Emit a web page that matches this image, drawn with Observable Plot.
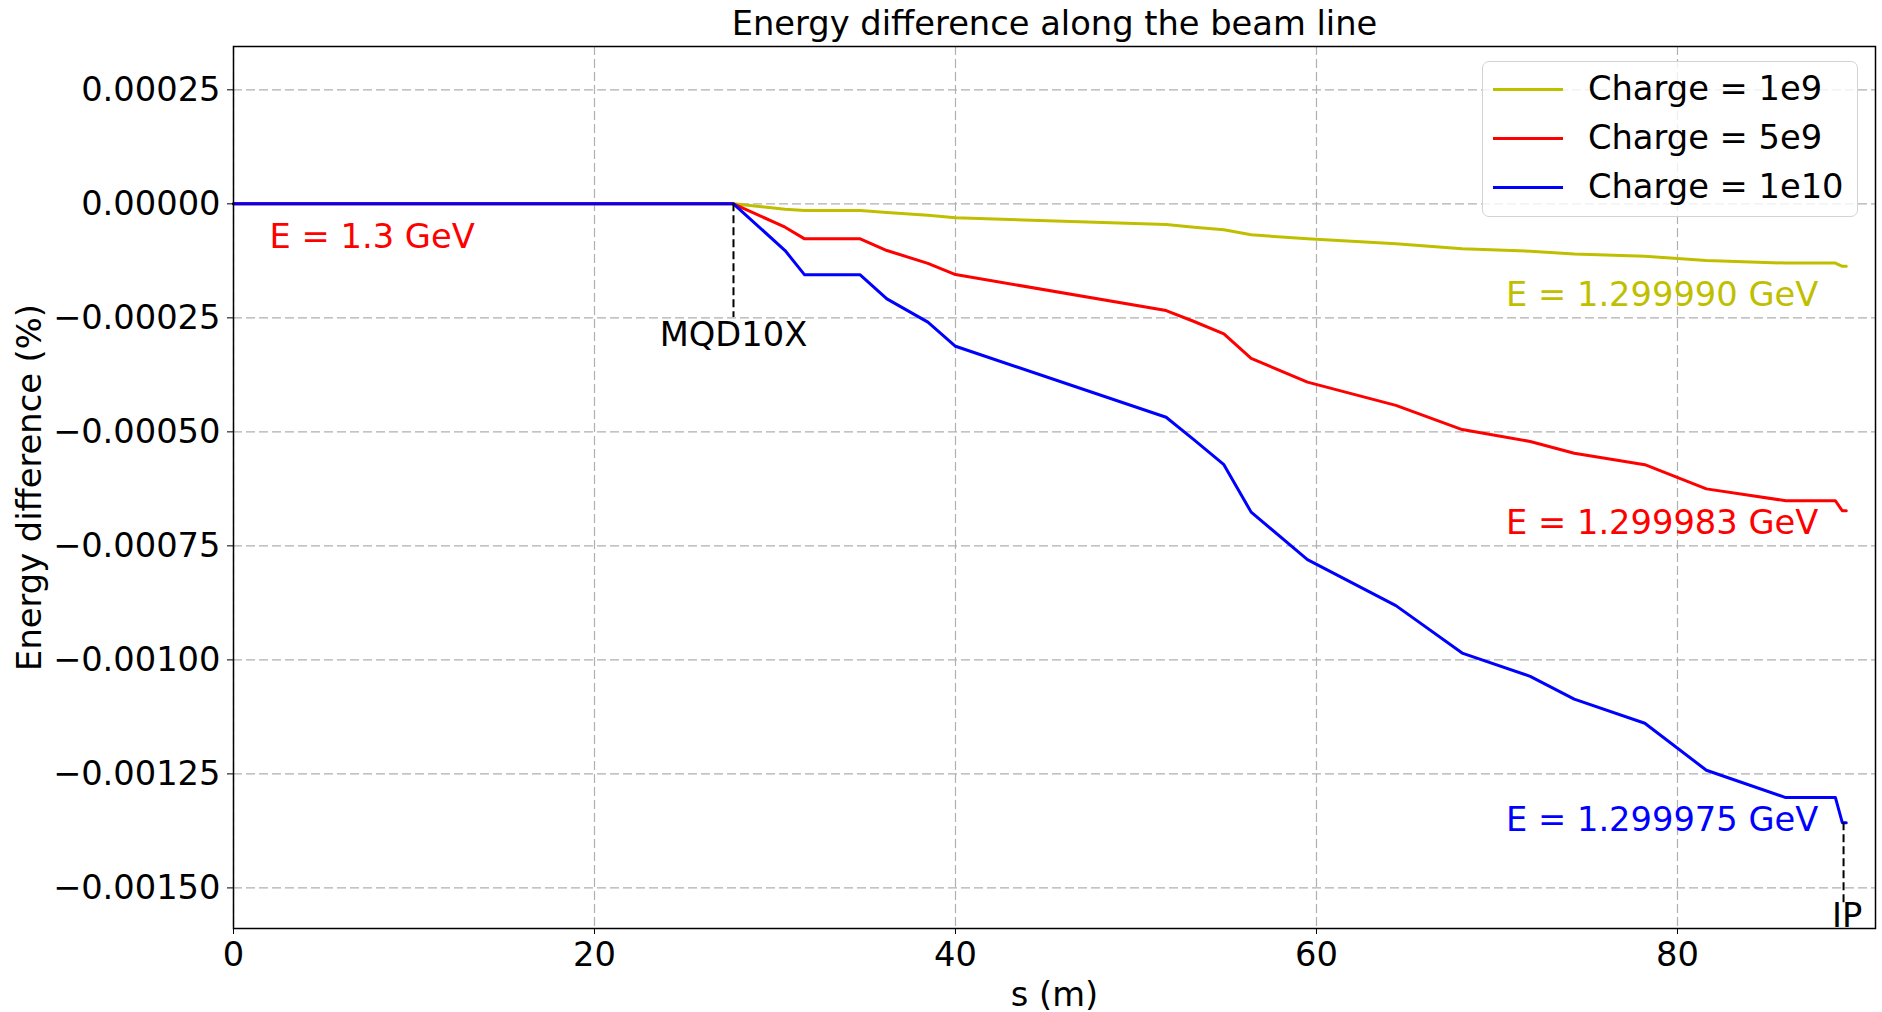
<!DOCTYPE html>
<html>
<head>
<meta charset="utf-8">
<script src="https://cdn.jsdelivr.net/npm/d3@7"></script>
<script src="https://cdn.jsdelivr.net/npm/@observablehq/plot@0.6"></script>
<style>
  html, body { margin: 0; padding: 0; background: #ffffff; }
  #wrap { position: relative; width: 1882px; height: 1012px; font-family: "DejaVu Sans", sans-serif; }
  #legend {
    position: absolute; left: 1482px; top: 61px; width: 376px; height: 156px;
    box-sizing: border-box; border: 1.5px solid #d3d3d3; border-radius: 7px;
    background: rgba(255,255,255,0.8);
  }
  #legend .row { position: absolute; left: 0; height: 40px; display: flex; align-items: center; }
  #legend .sw { display: inline-block; width: 70px; height: 3px; margin-left: 10px; }
  #legend .lb { margin-left: 25px; font-size: 33.7px; color: #000; white-space: nowrap; line-height: 40px; }
</style>
</head>
<body>
<div id="wrap"></div>
<script>
// ---- data ----
const sPos = [0, 27.7, 30.56, 31.64, 34.72, 36.2, 38.47, 40.0, 51.67, 53.22, 54.87, 56.38, 59.5, 64.4, 68.07, 71.84, 74.28, 78.19, 81.6, 86.0, 88.75, 89.13, 89.35];
const charge1e9 = [0, 0, -0.0000117, -0.0000147, -0.0000147, -0.000019, -0.0000252, -0.0000307, -0.0000454, -0.0000513, -0.000057, -0.000068, -0.0000768, -0.0000877, -0.0000987, -0.000104, -0.00011, -0.000115, -0.000124, -0.00013, -0.00013, -0.000137, -0.000137];
const charge5e9 = [0, 0, -0.0000513, -0.0000768, -0.0000768, -0.0001024, -0.0001305, -0.000155, -0.000234, -0.000258, -0.000285, -0.000339, -0.000391, -0.000442, -0.000495, -0.000521, -0.000547, -0.000572, -0.000625, -0.000651, -0.000651, -0.000673, -0.000673];
const charge1e10 = [0, 0, -0.0001024, -0.0001557, -0.0001557, -0.0002083, -0.0002594, -0.0003123, -0.000468, -0.0005175, -0.000572, -0.000676, -0.00078, -0.000881, -0.000985, -0.001036, -0.001086, -0.001139, -0.001242, -0.001302, -0.001302, -0.001357, -0.001357];

const seriesNames = ["Charge = 1e9", "Charge = 5e9", "Charge = 1e10"];
const seriesColors = ["#bfbf00", "#ff0000", "#0000ff"];
const seriesValues = [charge1e9, charge5e9, charge1e10];

const xTicks = [0, 20, 40, 60, 80];
const yTicks = [0.00025, 0, -0.00025, -0.0005, -0.00075, -0.001, -0.00125, -0.0015];
const xDomain = [0, 90.97];
const yDomain = [-0.001589, 0.000345];

const titleText = "Energy difference along the beam line";
const xLabel = "s (m)";
const yLabel = "Energy difference (%)";

const energyLabels = [
  {label: "E = 1.3 GeV", s: 2.0, v: -0.000074, color: "#ff0000"},
  {label: "E = 1.299990 GeV", s: 70.5, v: -0.000201, color: "#bfbf00"},
  {label: "E = 1.299983 GeV", s: 70.5, v: -0.0007, color: "#ff0000"},
  {label: "E = 1.299975 GeV", s: 70.5, v: -0.001352, color: "#0000ff"}
];
const markers = [
  {label: "MQD10X", s: 27.7, from: 0, to: -0.000249, labelS: 27.7, labelV: -0.000287},
  {label: "IP", s: 89.2, from: -0.001357, to: -0.001534, labelS: 89.4, labelV: -0.001563}
];

// ---- build table ----
const rows = [];
seriesNames.forEach((name, i) => {
  sPos.forEach((s, j) => rows.push({series: name, s, v: seriesValues[i][j]}));
});

const FONT = 33.7;
const marks = [
  Plot.gridX(xTicks, {stroke: "#b0b0b0", strokeOpacity: 1, strokeWidth: 1.2, strokeDasharray: "9,4"}),
  Plot.gridY(yTicks, {stroke: "#b0b0b0", strokeOpacity: 1, strokeWidth: 1.2, strokeDasharray: "9,4"}),
  ...seriesNames.map((name, i) =>
    Plot.line(rows.filter(r => r.series === name), {x: "s", y: "v", stroke: seriesColors[i], strokeWidth: 3})
  ),
  Plot.ruleX(markers, {x: "s", y1: "from", y2: "to", stroke: "black", strokeWidth: 2, strokeDasharray: "8,4"}),
  Plot.text(markers, {x: "labelS", y: "labelV", text: "label", fill: "black", fontSize: FONT, lineAnchor: "middle"}),
  ...energyLabels.map(a =>
    Plot.text([a], {x: "s", y: "v", text: "label", fill: a.color, fontSize: FONT, textAnchor: "start", lineAnchor: "middle"})
  ),
  Plot.axisX({ticks: xTicks, tickSize: 6, tickPadding: 8, fontSize: FONT, tickFormat: d => String(d),
    label: xLabel, labelAnchor: "center", labelArrow: "none", labelOffset: 77}),
  Plot.axisY({ticks: yTicks, tickSize: 6, tickPadding: 7, fontSize: FONT, tickFormat: d3.format(".5f"),
    label: yLabel, labelAnchor: "center", labelArrow: "none", labelOffset: 216}),
  Plot.frame({stroke: "black", strokeWidth: 1.5}),
  Plot.text([titleText], {text: d => d, frameAnchor: "top", dy: -22, lineAnchor: "middle", fontSize: FONT, fill: "black"})
];

const chart = Plot.plot({
  width: 1882,
  height: 1012,
  marginLeft: 233,
  marginRight: 7,
  marginTop: 46,
  marginBottom: 84,
  style: {fontFamily: "DejaVu Sans", fontSize: FONT + "px", background: "#ffffff", color: "#000000"},
  x: {domain: xDomain},
  y: {domain: yDomain},
  marks
});

const wrap = document.getElementById("wrap");
wrap.appendChild(chart);

// ---- legend (HTML overlay) ----
const legend = document.createElement("div");
legend.id = "legend";
const rowCenters = [27, 76, 125];
seriesNames.forEach((name, i) => {
  const row = document.createElement("div");
  row.className = "row";
  row.style.top = (rowCenters[i] - 20) + "px";
  const sw = document.createElement("span");
  sw.className = "sw";
  sw.style.background = seriesColors[i];
  const lb = document.createElement("span");
  lb.className = "lb";
  lb.textContent = name;
  row.appendChild(sw);
  row.appendChild(lb);
  legend.appendChild(row);
});
wrap.appendChild(legend);
</script>
</body>
</html>
